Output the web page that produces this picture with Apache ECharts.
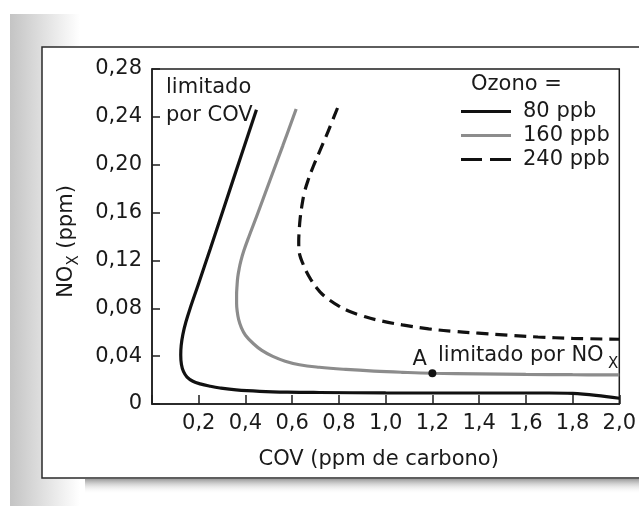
<!DOCTYPE html>
<html><head><meta charset="utf-8">
<script src="https://cdn.jsdelivr.net/npm/echarts@6/dist/echarts.min.js"></script>
<style>html,body{margin:0;padding:0;background:#fff}#c{width:639px;height:506px}</style>
</head><body><div id="c"></div>
<script>
// ---- data ----
const xTickLabels = ['', '0,2', '0,4', '0,6', '0,8', '1,0', '1,2', '1,4', '1,6', '1,8', '2,0'];
const yTickLabels = ['0', '0,04', '0,08', '0,12', '0,16', '0,20', '0,24', '0,28'];
const seriesNames = ['80 ppb', '160 ppb', '240 ppb'];
// [COV (ppm C), NOx (ppm)] along each ozone isopleth
const ozone80 = [[0.447,0.246],[0.35,0.189],[0.25,0.130],[0.20,0.101],[0.165,0.081],[0.145,0.0685],[0.132,0.058],[0.125,0.049],[0.123,0.041],[0.126,0.033],[0.135,0.027],[0.15,0.0225],[0.175,0.0190],[0.206,0.0168],[0.25,0.0148],[0.291,0.0134],[0.36,0.0118],[0.461,0.0106],[0.58,0.0099],[0.716,0.0096],[1.0,0.0093],[1.4,0.0092],[1.7,0.0092],[1.8,0.0088],[1.9,0.0072],[2.0,0.0048]];
const ozone160 = [[0.617,0.2466],[0.56,0.216],[0.503,0.186],[0.45,0.158],[0.415,0.140],[0.393,0.128],[0.381,0.120],[0.373,0.113],[0.367,0.106],[0.364,0.099],[0.362,0.091],[0.362,0.0843],[0.365,0.077],[0.371,0.0705],[0.382,0.064],[0.40,0.0575],[0.432,0.0508],[0.47,0.0448],[0.517,0.0398],[0.57,0.0358],[0.631,0.0328],[0.716,0.0307],[0.83,0.0289],[0.95,0.0275],[1.07,0.0265],[1.198,0.0257],[1.4,0.0252],[1.6,0.0248],[1.8,0.0245],[2.0,0.0243]];
const ozone240 = [[0.794,0.2474],[0.77,0.2357],[0.745,0.2237],[0.717,0.211],[0.69,0.1985],[0.668,0.187],[0.652,0.1766],[0.641,0.165],[0.634,0.155],[0.63,0.145],[0.628,0.136],[0.629,0.129],[0.634,0.1235],[0.645,0.1177],[0.66,0.111],[0.68,0.104],[0.705,0.097],[0.73,0.0915],[0.759,0.087],[0.80,0.0818],[0.844,0.0775],[0.90,0.0737],[0.957,0.0705],[1.071,0.0661],[1.184,0.0628],[1.298,0.0606],[1.397,0.0592],[1.52,0.0575],[1.652,0.0560],[1.8,0.0549],[2.0,0.0541]];
const pointA = [[1.2, 0.0257]];
const pointALabel = 'A';
const annotations = { vocLimited: 'limitado\npor COV', noxLimited: 'limitado por NO', noxSub: 'X', legendTitle: 'Ozono =' };

const FONT = 'DejaVu Sans';
const INK = '#1a1a1a';
const chart = echarts.init(document.getElementById('c'), null, {renderer: 'canvas'});

const solidIcon = 'path://M0,0H50V3H0Z';
const dashIcon = 'path://M0,0H21V3H0Z M29,0H50V3H29Z';

chart.setOption({
  backgroundColor: '#ffffff',
  animation: false,
  textStyle: {fontFamily: FONT, color: INK},
  title: {
    text: annotations.legendTitle, left: 471, top: 74.5, padding: 0,
    textStyle: {fontFamily: FONT, fontSize: 21, fontWeight: 'normal', color: INK}
  },
  legend: {
    orient: 'vertical', left: 461, top: 101, padding: 0,
    itemWidth: 50, itemHeight: 3.2, itemGap: 3,
    itemStyle: {borderWidth: 0},
    lineStyle: {width: 0},
    textStyle: {fontFamily: FONT, fontSize: 21, color: INK, lineHeight: 21, padding: [0, 0, 0, 7]},
    data: [
      {name: seriesNames[0], icon: solidIcon},
      {name: seriesNames[1], icon: solidIcon},
      {name: seriesNames[2], icon: dashIcon}
    ]
  },
  grid: {
    left: 152, right: 17, top: 69, bottom: 102,
    show: true, borderColor: '#1e1e1e', borderWidth: 1.5, backgroundColor: 'transparent'
  },
  xAxis: {
    type: 'value', min: 0, max: 2.0, interval: 0.2,
    name: 'COV (ppm de carbono)', nameLocation: 'middle', nameGap: 45,
    nameTextStyle: {fontFamily: FONT, fontSize: 21, color: INK, padding: [0, 14, 0, 0]},
    axisLine: {show: true, lineStyle: {color: '#1e1e1e', width: 1.5}},
    axisTick: {show: true, inside: true, length: 9, lineStyle: {color: '#1e1e1e', width: 1.5}},
    splitLine: {show: false},
    axisLabel: {
      margin: 9, fontFamily: FONT, fontSize: 21, color: INK,
      formatter: v => xTickLabels[Math.round(v / 0.2)] || ''
    }
  },
  yAxis: {
    type: 'value', min: 0, max: 0.28, interval: 0.04,
    name: 'NO{s|X} (ppm)', nameLocation: 'middle', nameGap: 70,
    nameTextStyle: {
      fontFamily: FONT, fontSize: 21, color: INK, padding: [0, 10, 0, 0],
      rich: {s: {fontFamily: FONT, fontSize: 15, color: INK, padding: [16, 0, 0, 0]}}
    },
    axisLine: {show: true, lineStyle: {color: '#1e1e1e', width: 1.5}},
    axisTick: {show: true, inside: true, length: 8, lineStyle: {color: '#1e1e1e', width: 1.5}},
    splitLine: {show: false},
    axisLabel: {
      margin: 10, fontFamily: FONT, fontSize: 21, color: INK,
      formatter: v => yTickLabels[Math.round(v / 0.04)]
    }
  },
  graphic: [
    {type: 'rect', z: -20, shape: {x: 10, y: 14, width: 70, height: 492},
     style: {fill: new echarts.graphic.LinearGradient(0, 0, 1, 0, [{offset: 0, color: '#c4c4c4'}, {offset: 1, color: '#ffffff'}])}},
    {type: 'rect', z: -19, shape: {x: 85, y: 479, width: 560, height: 15},
     style: {fill: new echarts.graphic.LinearGradient(0, 0, 0, 1, [{offset: 0, color: '#9c9c9c'}, {offset: 1, color: 'rgba(255,255,255,0)'}])}},
    {type: 'rect', z: -18, shape: {x: 42, y: 47, width: 620, height: 431},
     style: {fill: '#ffffff', stroke: '#2a2a2a', lineWidth: 1.5}},
    {type: 'text', z: 10, style: {x: 166, y: 101.7, text: annotations.vocLimited, font: '21px "DejaVu Sans"',
      fill: INK, lineHeight: 28.6, verticalAlign: 'middle', align: 'left'}},
    {type: 'text', z: 10, style: {x: 438, y: 355.5, text: annotations.noxLimited, font: '21px "DejaVu Sans"',
      fill: INK, verticalAlign: 'middle', align: 'left'}},
    {type: 'text', z: 10, style: {x: 608, y: 364, text: annotations.noxSub, font: '15px "DejaVu Sans"',
      fill: INK, verticalAlign: 'middle', align: 'left'}}
  ],
  series: [
    {name: seriesNames[0], type: 'line', data: ozone80, smooth: 0.4, symbol: 'none',
     lineStyle: {color: '#111111', width: 3.2}, itemStyle: {color: '#111111'}, z: 3},
    {name: seriesNames[1], type: 'line', data: ozone160, smooth: 0.4, symbol: 'none',
     lineStyle: {color: '#8c8c8c', width: 3.2}, itemStyle: {color: '#8c8c8c'}, z: 2},
    {name: seriesNames[2], type: 'line', data: ozone240, smooth: 0.4, symbol: 'none',
     lineStyle: {color: '#111111', width: 3.2, type: [12, 7]}, itemStyle: {color: '#111111'}, z: 2},
    {name: 'A', type: 'scatter', data: pointA, symbol: 'circle', symbolSize: 8,
     itemStyle: {color: '#111111', opacity: 1}, z: 5,
     label: {show: true, formatter: pointALabel, position: [-16, -20], fontFamily: FONT, fontSize: 21, color: INK, opacity: 1}}
  ]
});
</script>
</body></html>
